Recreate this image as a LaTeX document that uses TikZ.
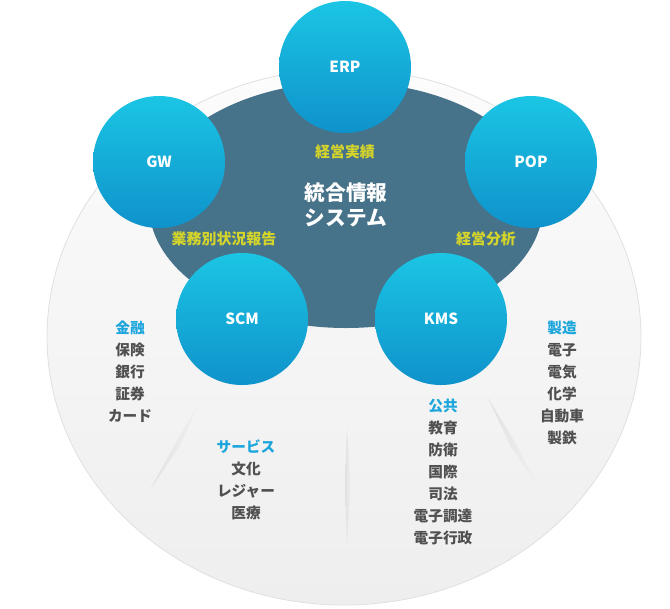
\documentclass[tikz,border=0pt]{standalone}
\usepackage{fontspec}
\setmainfont{Noto Sans CJK JP}
\usepackage{tikz}
\usetikzlibrary{shapes.geometric,positioning}
\usepackage{xcolor}

\definecolor{fieldTop}{HTML}{FCFCFC}
\definecolor{fieldBottom}{HTML}{EEEEEE}
\definecolor{fieldLine}{HTML}{E0E0E0}
\definecolor{coreBlue}{HTML}{47738A}
\definecolor{hubTop}{HTML}{1BC5E4}
\definecolor{hubBottom}{HTML}{0F92CB}
\definecolor{tagYellow}{HTML}{D4D42A}
\definecolor{catBlue}{HTML}{1CA6DC}
\definecolor{itemGray}{HTML}{505050}

\tikzset{
    hub/.style={circle, inner sep=0pt, minimum size=99pt, top color=hubTop, bottom color=hubBottom,
        text=white, font=\fontsize{11.5}{13}\selectfont\bfseries},
    tag/.style={text=tagYellow, font=\fontsize{11.2}{13}\selectfont\bfseries},
    sector/.style={align=center, anchor=north, inner sep=0pt, text=itemGray,
        font=\fontsize{11}{16.5}\selectfont\bfseries},
    cut/.style={left color=black!12, right color=black!5},
}

\begin{document}
\begin{tikzpicture}[x=0.75pt, y=-0.75pt]
    \useasboundingbox (0,0) rectangle (670,608);

    % outer field and dividers
    \node[ellipse, minimum width=445.5pt, minimum height=402pt, draw=fieldLine, line width=0.6pt,
        top color=fieldTop, bottom color=fieldBottom] (field) at (344,337) {};
    \shade[cut] (202,398) -- (179,447) -- (150,490) -- (175,444) -- cycle;
    \shade[cut] (347,428) -- (351,485) -- (347,543) -- (345,485) -- cycle;
    \shade[cut] (488,398) -- (516,444) -- (540,490) -- (511,447) -- cycle;

    % core system
    \node[ellipse, minimum width=295.5pt, minimum height=184.5pt, fill=coreBlue, text=white,
        align=center, font=\fontsize{15.5}{18.5}\selectfont\bfseries] (core) at (346,205) {統合情報\\システム};

    % modules
    \node[hub] (erp) at (345,67) {ERP};
    \node[hub] (gw) at (159,162) {GW};
    \node[hub] (pop) at (531,162) {POP};
    \node[hub] (scm) at (242,319) {SCM};
    \node[hub] (kms) at (441,319) {KMS};

    \node[tag] (results) at (345,152) {経営実績};
    \node[tag] (status) at (224,239) {業務別状況報告};
    \node[tag] (analysis) at (486,239) {経営分析};

    % sectors
    \node[sector] (fin) at (130,321) {\textcolor{catBlue}{金融}\\保険\\銀行\\証券\\カード};
    \node[sector] (serv) at (246,439) {\textcolor{catBlue}{サービス}\\文化\\レジャー\\医療};
    \node[sector] (pub) at (443,399) {\textcolor{catBlue}{公共}\\教育\\防衛\\国際\\司法\\電子調達\\電子行政};
    \node[sector] (mfg) at (562,321) {\textcolor{catBlue}{製造}\\電子\\電気\\化学\\自動車\\製鉄};
\end{tikzpicture}
\end{document}
